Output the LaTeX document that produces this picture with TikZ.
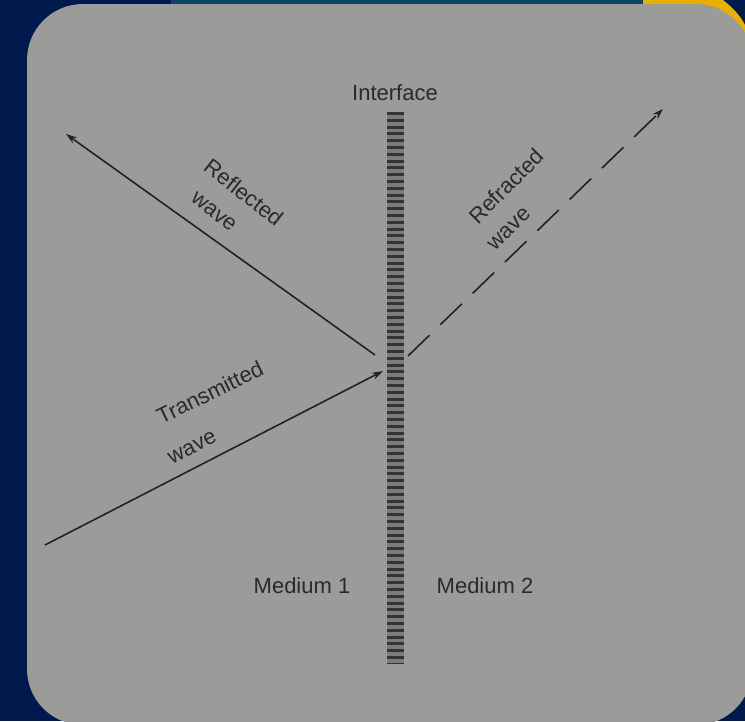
\documentclass[tikz,border=0pt]{standalone}
\usepackage{fontspec}
\setmainfont{Liberation Sans}
\usetikzlibrary{arrows.meta}
\definecolor{navy}{HTML}{001A4D}
\definecolor{tealband}{HTML}{0A4468}
\definecolor{goldarc}{HTML}{E8B000}
\definecolor{panel}{HTML}{9B9B99}
\definecolor{ink}{HTML}{222222}
\definecolor{txt}{HTML}{2A2A2A}
\tikzset{
  lbl/.style={font=\fontsize{22}{24}\selectfont, text=txt, inner sep=0pt},
  lbltwo/.style={lbl, align=left},
  wave/.style={draw=ink, line width=1.6pt, -{Stealth[length=11pt,width=7pt]}},
  dwave/.style={wave, dash pattern=on 30pt off 15pt},
}
\begin{document}
\begin{tikzpicture}[x=1pt,y=-1pt]
\useasboundingbox (0,0) rectangle (745,721);
% background
\fill[navy] (0,0) rectangle (745,721);
\fill[tealband] (171,0) rectangle (643,8);
\fill[goldarc] (643,0) -- (723,0) .. controls (732,7) and (740,15) .. (745,25) -- (745,90) -- (643,90) -- cycle;
\fill[panel, rounded corners=56pt] (27,4) rectangle (752,725);
% interface
\coordinate (ifTop) at (395,112);
\coordinate (ifBot) at (395,663);
\fill[color=panel!80!black] (386.5,112) rectangle (403.5,663);
\draw[line width=17pt, draw=ink!85!panel, dash pattern=on 3pt off 3.8pt] (ifTop) -- (ifBot);
\node[lbl] (interface) at (395,93) {Interface};
% waves
\coordinate (reflS) at (375,355);
\coordinate (reflE) at (66,134);
\draw[wave] (reflS) -- (reflE);
\coordinate (transS) at (45,545);
\coordinate (transE) at (383,371);
\draw[wave] (transS) -- (transE);
\coordinate (refrS) at (408,356);
\coordinate (refrE) at (663,109);
\draw[dwave] (refrS) -- (refrE);
% labels
\node[lbltwo, font=\fontsize{22}{32}\selectfont, rotate=-38] (reflected) at (234,205) {Reflected\\\hspace*{9pt}wave};
\node[lbltwo, font=\fontsize{22}{31}\selectfont, rotate=45] (refracted) at (515,199) {\hspace*{6pt}Refracted\\wave};
\node[lbltwo, font=\fontsize{22}{40}\selectfont, rotate=26] (transmitted) at (215,412) {\hspace*{8pt}Transmitted\\wave};
\node[lbl] (med1) at (302,586) {Medium 1};
\node[lbl] (med2) at (485,586) {Medium 2};
\end{tikzpicture}
\end{document}
